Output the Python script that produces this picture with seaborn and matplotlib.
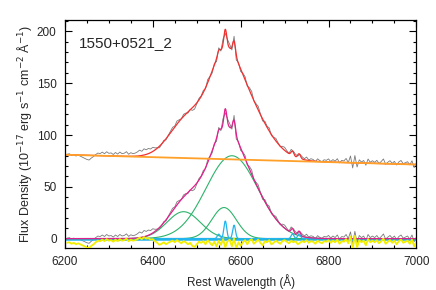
import numpy as np
import pandas as pd
import matplotlib
matplotlib.use("Agg")
import matplotlib.pyplot as plt
import seaborn as sns
from matplotlib.ticker import MultipleLocator

# observed wavelength grid of the spectrum (5 A bins)
wave = np.arange(6205, 7001, 5)

# residuals (data - fit), one per bin
resid = [
    0.5, 1.0, -0.5, 0.5, -1.0, 0.0,
    -1.0, -2.0, -3.0, -4.0, -4.5, -2.5,
    -1.0, 1.0, 2.5, 2.0,
    3.5, 2.0, 4.0, 2.5, 3.0, 1.5, 3.5, 2.0, 4.0, 2.5, 3.0, 4.5, 2.0, 3.5, 2.5, 3.0,
    4.0, 5.5, 4.0, 6.0, 4.5, 5.0, 3.5, 4.0,
    2.0, 0.5, -1.5, -0.5, 1.0, -1.0, 0.5, 1.5,
    2.5, 1.0, 3.0, 1.5, 0.0, 2.0, 1.0, -1.0, 0.5, -2.5, -3.5, -1.0, 1.5, 0.5,
    2.0, -1.0, 3.0, 0.5, -2.0, 1.5, -3.0, 2.5, -1.5, 4.0,
    -4.0, 2.0, 3.5, -3.0, 4.5, -5.0, 1.0, -2.5,
    1.0, 3.0, -1.0, 2.5, 4.0, -0.5, 1.5, 3.5, 0.5, -2.0, 2.0, 1.0, 3.0, -1.0, 0.5, 2.5, 1.0, -0.5, 2.0, 3.0,
    1.5, 0.0, 2.5, 1.0, 2.0, -1.0, 0.5, 2.0, 1.0, 3.0, 0.5, 2.0, 1.5, -0.5, 2.5, 1.0, 0.0, 2.0, 1.5, 3.0,
    0.5, 2.5, 1.0, 3.5, -0.5, 2.0, 1.5, 4.0, 0.0, 6.5, -5.0, 7.0, -4.0, 3.0, 1.0, 2.5, -2.0, 4.0, 1.0, 2.5,
    1.0, 3.0, 0.0, 2.0, 4.5, -0.5, 1.5, 3.0, 0.5, 2.5, -1.0, 2.0, 3.5, 0.5, 1.5, 2.5, -0.5, 3.5, -3.0, 1.5,
]
resid_offset = -4.5

# linear continuum: value at 6200 and 7000 A
cont_ends = [81.0, 71.5]

# broad Gaussian components (green)
broad_center = [6470, 6580, 6562]
broad_amp = [26, 80, 30]
broad_sigma = [38, 59, 28]

# narrow lines (cyan): [NII]6548, Ha, [NII]6583, [SII] doublet
narrow_center = [6550, 6565, 6585, 6718, 6733]
narrow_amp = [4.3, 17, 13, 4.5, 4.5]
narrow_sigma = 3.2

label = "1550+0521_2"


def gauss(x, c, a, s):
    return a * np.exp(-0.5 * ((x - c) / s) ** 2)


def continuum(x):
    return cont_ends[0] + (cont_ends[1] - cont_ends[0]) * (x - 6200) / 800.0


x = np.arange(6200, 7001, 1.0)
broads = [gauss(x, c, a, s) for c, a, s in zip(broad_center, broad_amp, broad_sigma)]
narrow = sum(gauss(x, c, a, narrow_sigma) for c, a in zip(narrow_center, narrow_amp))
total = sum(broads) + narrow

resid = np.array(resid)
fit_on_grid = np.interp(wave, x, total)
lower = fit_on_grid + resid
upper = lower + continuum(wave)

sns.set_style("ticks")
plt.rcParams['font.family'] = ['Liberation Sans', 'DejaVu Sans']

fig = plt.figure(figsize=(4.36, 2.90), dpi=100)
ax = fig.add_axes([0.149, 0.145, 0.806, 0.786])

lw_data = 0.6
sns.lineplot(x=wave, y=upper, color='#7a7a7a', lw=lw_data, ax=ax, sort=False, estimator=None)
sns.lineplot(x=wave, y=lower, color='#7a7a7a', lw=lw_data, ax=ax, sort=False, estimator=None)

ax.axhline(0.8, color='#c8c8c8', lw=0.8)
ax.axhline(0, color='#22b4ee', lw=1.8)
sns.lineplot(x=wave, y=resid + resid_offset, color='#f2ee00', lw=1.3, ax=ax, sort=False,
             estimator=None, zorder=3)
for b in broads:
    sns.lineplot(x=x, y=b, color='#2db36b', lw=0.8, ax=ax, sort=False, estimator=None)
sns.lineplot(x=x, y=narrow, color='#22b4ee', lw=0.9, ax=ax, sort=False, estimator=None)
sns.lineplot(x=x, y=total, color='#e0208c', lw=0.9, ax=ax, sort=False, estimator=None)
sns.lineplot(x=x, y=total + continuum(x), color='#f03030', lw=0.9, ax=ax, sort=False, estimator=None)
sns.lineplot(x=x, y=continuum(x), color='#ffa028', lw=1.3, ax=ax, sort=False, estimator=None)

ax.set_xlim(6200, 7000)
ax.set_ylim(-9, 211)
ax.xaxis.set_major_locator(MultipleLocator(200))
ax.xaxis.set_minor_locator(MultipleLocator(50))
ax.yaxis.set_major_locator(MultipleLocator(50))
ax.yaxis.set_minor_locator(MultipleLocator(10))
ax.tick_params(which='both', direction='in', top=True, right=True, labelsize=8.5,
               width=0.8, pad=6, color='black')
ax.tick_params(which='major', length=5)
ax.tick_params(which='minor', length=2.5)
for sp in ax.spines.values():
    sp.set_linewidth(0.9)
    sp.set_color('black')

ax.set_xlabel("Rest Wavelength (Å)", fontsize=8.5, labelpad=4)
ax.set_ylabel("Flux Density (10$^{-17}$ erg s$^{-1}$ cm$^{-2}$ Å$^{-1}$)", fontsize=9, labelpad=2)
ax.text(0.04, 0.9, label, transform=ax.transAxes, fontsize=11, va='center', ha='left')

fig.savefig("out.png", dpi=100)
